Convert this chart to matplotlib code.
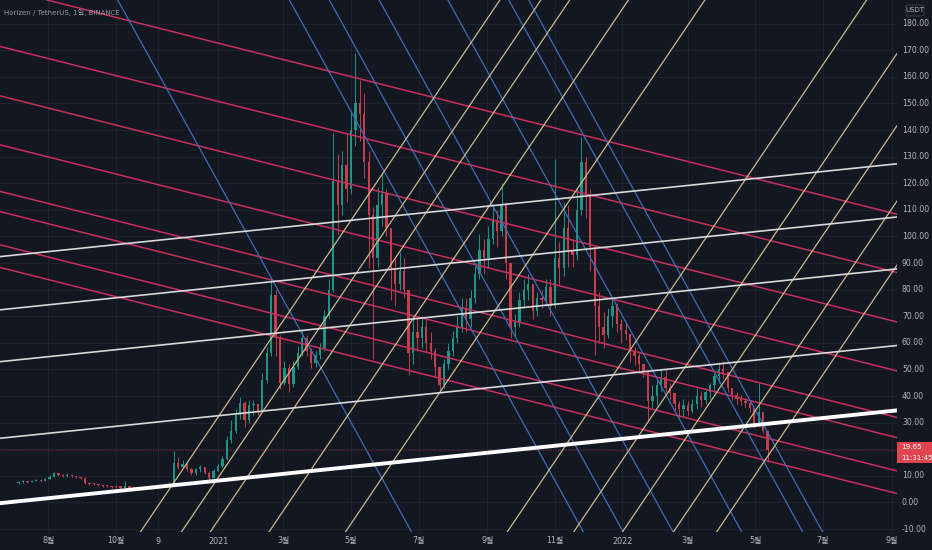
import matplotlib
matplotlib.use("Agg")
import matplotlib.pyplot as plt
import matplotlib.dates as mdates
import matplotlib.transforms as mtransforms
from matplotlib.patches import Rectangle, FancyBboxPatch
import numpy as np
import pandas as pd

# ---------------------------------------------------------------- data
# ZEN/USDT, one candle per 4 days starting 2020-07-05
first_date = "2020-07-05"
candle_step = "4D"
first_open = 7.2
close = [
    7.6, 7.9, 7.7, 8.1, 8.4, 8.2, 8.8, 9.6, 10.9, 10.4,
    10.0, 10.5, 9.8, 9.5, 9.2, 7.4, 7.0, 6.8, 6.5, 6.3,
    6.1, 5.9, 5.7, 5.6, 6.0, 5.6, 5.4, 5.3, 5.3, 5.5,
    5.7, 6.2, 6.5, 6.6, 7.0, 15.0, 13.5, 14.6, 12.5, 11.0,
    12.4, 13.2, 11.0, 9.2, 12.0, 13.8, 16.5, 23.5, 27.0, 33.0,
    37.5, 31.0, 36.5, 37.0, 34.5, 46.0, 56.0, 78.0, 62.0, 45.0,
    50.5, 44.5, 51.0, 56.0, 62.0, 57.0, 52.5, 55.5, 58.0, 70.0,
    80.0, 121.0, 112.0, 127.0, 118.0, 140.0, 150.0, 146.0, 128.0, 108.0,
    92.0, 112.0, 116.0, 103.0, 88.0, 82.0, 87.0, 80.0, 56.0, 64.0,
    62.0, 66.0, 60.0, 57.0, 51.0, 44.0, 52.0, 57.0, 62.0, 66.0,
    73.0, 69.0, 77.0, 86.0, 95.0, 92.0, 99.0, 106.0, 102.0, 112.0,
    90.0, 66.0, 68.0, 76.0, 80.0, 82.0, 72.0, 77.0, 76.0, 81.0,
    74.0, 92.0, 88.0, 103.0, 95.0, 93.0, 110.0, 128.0, 116.0, 96.0,
    74.0, 66.0, 63.0, 70.0, 74.0, 67.0, 65.0, 63.5, 57.0, 55.0,
    52.0, 49.0, 38.0, 40.0, 44.0, 47.0, 43.0, 41.0, 37.0, 35.0,
    36.5, 34.5, 37.0, 40.0, 38.5, 41.5, 44.0, 47.5, 50.0, 49.0,
    43.0, 40.5, 39.0, 38.0, 37.5, 35.5, 30.0, 34.0, 27.0, 19.65,
]
high = [
    8.1, 8.3, 8.2, 8.5, 8.8, 8.7, 9.2, 10.2, 11.6, 11.2,
    10.7, 10.9, 10.6, 10.0, 9.8, 9.4, 7.6, 7.3, 7.0, 6.8,
    6.5, 6.3, 6.1, 5.9, 8.2, 6.3, 5.9, 5.7, 5.6, 5.8,
    6.0, 6.5, 6.9, 7.0, 7.6, 19.5, 17.0, 15.8, 15.0, 13.0,
    13.0, 14.2, 13.5, 11.8, 12.6, 14.6, 17.5, 25.0, 31.0, 35.0,
    39.5, 38.0, 38.5, 38.5, 37.5, 48.5, 58.5, 84.0, 80.0, 63.0,
    53.0, 52.0, 53.0, 59.0, 65.0, 63.0, 58.0, 57.0, 60.0, 72.5,
    84.0, 139.0, 131.0, 132.0, 139.0, 147.0, 169.0, 159.0, 154.0, 132.0,
    111.0, 118.6, 124.0, 118.0, 101.0, 92.0, 94.0, 92.0, 80.0, 70.0,
    70.0, 70.0, 69.0, 64.0, 58.0, 51.0, 54.0, 60.0, 64.5, 70.0,
    77.0, 77.0, 80.0, 89.0, 101.0, 99.0, 104.0, 111.0, 110.0, 120.0,
    113.0, 90.0, 71.0, 79.0, 84.0, 86.0, 82.0, 79.0, 80.0, 84.0,
    84.0, 129.0, 98.0, 113.0, 112.0, 99.0, 118.6, 137.5, 130.0, 118.0,
    96.0, 79.0, 71.6, 73.0, 77.0, 75.0, 69.0, 68.0, 63.0, 58.5,
    56.0, 52.0, 49.0, 44.0, 46.0, 50.6, 50.0, 45.0, 41.0, 38.0,
    39.0, 38.0, 39.0, 43.0, 42.0, 43.0, 45.0, 48.5, 52.8, 53.0,
    49.0, 43.0, 41.5, 40.5, 39.3, 38.0, 35.0, 45.0, 34.0, 27.0,
]
low = [
    6.9, 7.3, 7.2, 7.5, 7.9, 7.8, 8.0, 8.7, 9.5, 9.9,
    9.4, 9.7, 9.4, 9.1, 8.8, 6.8, 6.6, 6.4, 6.1, 5.9,
    5.7, 5.5, 5.3, 5.2, 5.4, 5.3, 5.1, 5.0, 5.0, 5.1,
    5.3, 5.5, 6.0, 6.2, 6.4, 6.8, 12.5, 12.8, 12.0, 10.3,
    10.5, 11.6, 10.6, 8.5, 9.0, 11.5, 13.4, 16.0, 22.5, 26.0,
    31.5, 28.5, 30.0, 33.0, 33.0, 34.0, 45.0, 55.0, 55.0, 42.5,
    44.0, 41.5, 43.5, 50.0, 55.0, 55.0, 50.5, 51.0, 54.0, 57.0,
    69.0, 79.0, 101.0, 108.0, 113.0, 116.0, 134.0, 136.0, 122.0, 88.0,
    54.0, 88.5, 104.0, 100.0, 76.0, 74.0, 80.0, 77.0, 48.0, 52.0,
    57.0, 58.0, 56.6, 54.0, 47.0, 41.5, 43.0, 50.0, 55.0, 60.0,
    64.0, 64.0, 66.0, 75.0, 84.0, 86.0, 88.0, 97.0, 96.0, 100.0,
    84.0, 62.0, 62.5, 66.0, 73.0, 76.0, 69.0, 70.0, 73.0, 74.0,
    70.0, 73.0, 82.0, 85.0, 88.5, 88.5, 91.0, 108.0, 107.0, 87.0,
    55.5, 60.0, 58.0, 62.0, 66.0, 64.0, 60.0, 61.0, 52.8, 51.7,
    49.0, 47.0, 30.3, 35.5, 36.6, 42.0, 41.5, 39.0, 34.0, 32.0,
    32.0, 32.9, 33.5, 35.0, 36.0, 37.0, 39.0, 41.5, 45.0, 46.8,
    41.5, 38.5, 37.0, 36.6, 36.0, 34.0, 28.0, 30.0, 26.0, 15.2,
]
last_price = 19.65
countdown = "11:31:45"
title = "Horizen / TetherUS, 1일, BINANCE"

# trend lines: parallel families, each given by a slope (USDT per day)
# and the price each line has at an anchor date
channel_anchor = "2021-01-01"
white_slope = 0.0431
white_levels = [100.9, 80.9, 61.4, 32.6]
support_level = 8.2
pink_slope = -0.105
pink_levels = [172.7, 150.8, 132.2, 113.8, 96.3, 88.7, 76.2, 67.7]
# steep fans: the date where each line crosses zero
blue_slope = -0.754
blue_zero_dates = ["2021-06-10", "2021-11-12", "2021-12-18", "2022-02-01",
                   "2022-04-04", "2022-05-29", "2022-06-16"]
gold_slope = 0.6165
gold_zero_dates = ["2020-11-10", "2020-12-17", "2021-01-12", "2021-03-06",
                   "2021-05-14", "2021-10-07", "2021-12-06", "2022-01-19",
                   "2022-03-06", "2022-04-14"]

price_ticks = list(range(-10, 181, 10))
time_ticks = ["2020-08-01", "2020-10-01", "2020-11-08", "2021-01-01",
              "2021-03-01", "2021-05-01", "2021-07-01", "2021-09-01",
              "2021-11-01", "2022-01-01", "2022-03-01", "2022-05-01",
              "2022-07-01", "2022-09-01"]
time_labels = ["8월", "10월", "9", "2021", "3월", "5월", "7월", "9월",
               "11월", "2022", "3월", "5월", "7월", "9월"]

# ---------------------------------------------------------------- style
BG = "#131722"
GRID = "#1e222d"
TEXT = "#b2b5be"
UP = "#1f9484"
DOWN = "#c43e4c"
BADGE = "#e0454f"
PINK = "#c8305c"
BLUE = "#3f6db5"
GOLD = "#c9ba8c"
FONT = ["DejaVu Sans", "Noto Sans CJK KR"]

W, H = 932, 550
fig = plt.figure(figsize=(W / 100, H / 100), dpi=100, facecolor=BG)
ax = fig.add_axes([0, 18.3 / H, 897 / W, 531.7 / H], facecolor=BG)

t = mdates.date2num(pd.date_range(first_date, periods=len(close), freq=candle_step))
o = np.array([first_open] + close[:-1])
c = np.array(close)
hi = np.array(high)
lo = np.array(low)
up = c >= o
colors = np.where(up, UP, DOWN)

ax.vlines(t, lo, hi, colors=colors, lw=0.7, zorder=3)
body_lo = np.minimum(o, c)
body_h = np.maximum(np.abs(c - o), 0.4)
ax.bar(t, body_h, bottom=body_lo, width=2.1, color=colors, lw=0, zorder=3)

# grid
for p in price_ticks:
    ax.axhline(p, color=GRID, lw=0.8, zorder=0)
tick_nums = mdates.date2num(pd.to_datetime(time_ticks))
for x in tick_nums:
    ax.axvline(x, color=GRID, lw=0.8, zorder=0)

# last-price line
ax.axhline(last_price, color=DOWN, alpha=0.4, lw=0.9, ls=(0, (1, 1)), zorder=2)

# trend lines
anchor = mdates.date2num(pd.Timestamp(channel_anchor))
for lvl in pink_levels:
    ax.axline((anchor, lvl), slope=pink_slope, color=PINK, lw=1.1, zorder=4)
for d in blue_zero_dates:
    ax.axline((mdates.date2num(pd.Timestamp(d)), 0), slope=blue_slope,
              color=BLUE, lw=0.9, zorder=4)
for d in gold_zero_dates:
    ax.axline((mdates.date2num(pd.Timestamp(d)), 0), slope=gold_slope,
              color=GOLD, lw=0.9, zorder=4)
for lvl in white_levels:
    ax.axline((anchor, lvl), slope=white_slope, color="#d9d9d9", lw=1.2, zorder=5)
ax.axline((anchor, support_level), slope=white_slope, color="white", lw=2.8, zorder=5)

x_left = anchor - 196.75
x_right = anchor + 612.8
ax.set_xlim(x_left, x_right)
ax.set_ylim(-11.0, 188.9)
for s in ax.spines.values():
    s.set_visible(False)
ax.set_xticks([])
ax.set_yticks([])

# last price badge (covers the scale label it sits on)
badge_top = last_price + 3.1
badge_bottom = last_price - 4.9

# price scale on the right
yax = mtransforms.blended_transform_factory(fig.transFigure, ax.transData)
for p in price_ticks:
    if badge_bottom - 1.5 < p < badge_top + 1.5:
        continue
    fig.text(902 / W, p, f"{p:.2f}", transform=yax, ha="left", va="center",
             fontsize=5.6, color=TEXT, family=FONT)

# time scale
xax = mtransforms.blended_transform_factory(ax.transData, fig.transFigure)
for x, lab in zip(tick_nums, time_labels):
    fig.text(x, 1 - 541 / H, lab, transform=xax, ha="center", va="center",
             fontsize=5.8, color=TEXT, family=FONT)

# currency badge
fig.patches.append(FancyBboxPatch((906 / W, 1 - 16 / H), 18 / W, 11 / H,
                                  boxstyle="round,pad=0,rounding_size=0.003",
                                  transform=fig.transFigure, fc=BG,
                                  ec="#363a45", lw=0.8))
fig.text(915 / W, 1 - 10.5 / H, "USDT", ha="center", va="center",
         fontsize=5.0, color=TEXT, family=FONT, zorder=5)

fig.patches.append(Rectangle((897 / W, badge_bottom), 35 / W,
                             badge_top - badge_bottom, transform=yax,
                             fc=BADGE, ec="none", zorder=4))
fig.text(901 / W, last_price + 1.2, f"{last_price:.2f}", transform=yax,
         ha="left", va="center", fontsize=5.2, color="white", family=FONT,
         zorder=6)
fig.text(901 / W, last_price - 3.1, countdown, transform=yax, ha="left",
         va="center", fontsize=5.0, color="white", family=FONT, zorder=6)

# symbol title
fig.text(4 / W, 1 - 12 / H, title, ha="left", va="center", fontsize=5.0,
         color="#9598a1", family=FONT)

fig.savefig("out.png", dpi=100, facecolor=BG)
